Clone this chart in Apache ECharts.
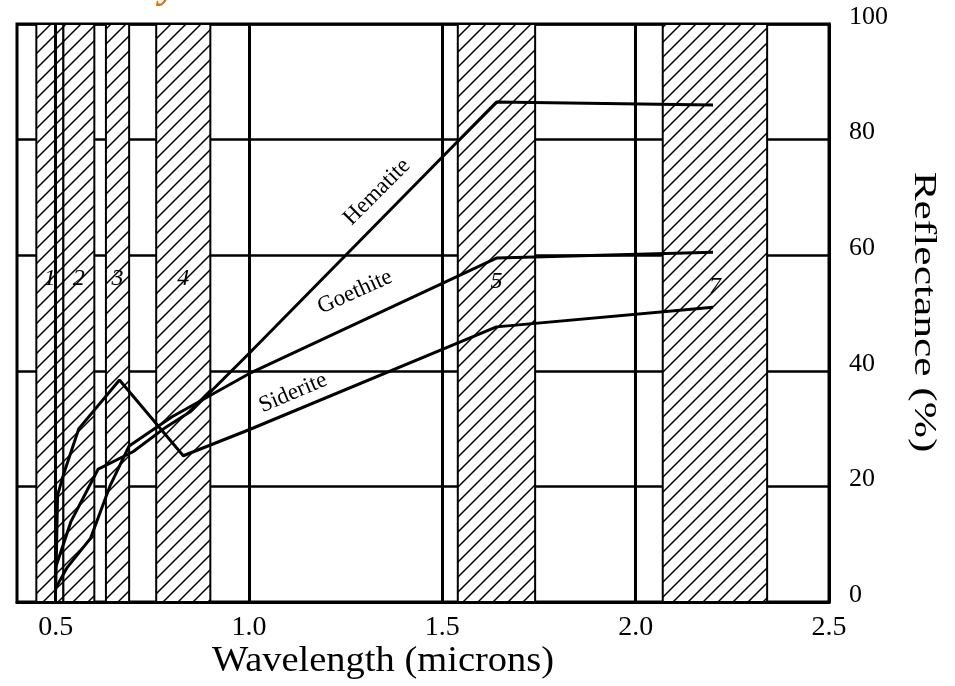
<!DOCTYPE html>
<html>
<head>
<meta charset="utf-8">
<script src="https://cdn.jsdelivr.net/npm/echarts@6/dist/echarts.min.js"></script>
<style>
html,body{margin:0;padding:0;background:#fff;}
#c{width:955px;height:686px;}
</style>
</head>
<body>
<div id="c"></div>
<script>
// ---- data ----
var bandNames = ['1', '2', '3', '4', '5', '7'];
var bandStart = [0.45, 0.52, 0.63, 0.76, 1.54, 2.07];
var bandEnd   = [0.52, 0.60, 0.69, 0.90, 1.74, 2.34];
var bandLabelY = [56, 56, 56, 56, 55.5, 54.5];

var gridX = [0.5, 1.0, 1.5, 2.0];
var xTicks = [0.5, 1.0, 1.5, 2.0, 2.5];

var hematiteX = [0.50, 0.52, 0.54, 0.61, 0.70, 0.78, 0.85, 1.00, 1.64, 2.20];
var hematiteY = [6, 10, 14, 23, 26, 30, 33, 43, 86.5, 86];
var goethiteX = [0.50, 0.53, 0.59, 0.64, 0.69, 0.80, 1.00, 1.64, 2.20];
var goethiteY = [2.4, 6, 11, 20, 27, 32, 39.5, 59.5, 60.5];
var sideriteX = [0.50, 0.505, 0.52, 0.56, 0.665, 0.83, 1.00, 1.64, 2.20];
var sideriteY = [2, 18.5, 22, 30, 38.4, 25.3, 29.8, 47.6, 51];

function pairs(xs, ys){ return xs.map(function(x,i){ return [x, ys[i]]; }); }

// hatch pattern
var pat = document.createElement('canvas');
pat.width = 15; pat.height = 15;
var g = pat.getContext('2d');
g.fillStyle = '#fff'; g.fillRect(0,0,15,15);
g.strokeStyle = '#000'; g.lineWidth = 1.5;
g.beginPath();
g.moveTo(-2, 17); g.lineTo(17, -2);
g.moveTo(-2, 2); g.lineTo(2, -2);
g.moveTo(13, 17); g.lineTo(17, 13);
g.stroke();

var chart = echarts.init(document.getElementById('c'), null, {renderer:'canvas'});
var serif = '"Liberation Serif", "DejaVu Serif", serif';
var lineStyle = {color:'#000', width:3};

var bandData = bandStart.map(function(s,i){ return [s, bandEnd[i], bandLabelY[i]]; });

var option = {
  animation: false,
  backgroundColor: '#fff',
  grid: {left: 17, right: 126, top: 24, bottom: 84, show: true, borderColor: '#000', borderWidth: 3, backgroundColor: 'transparent'},
  xAxis: {
    type: 'value', min: 0.4, max: 2.5,
    axisLine: {show: true, lineStyle: {color:'#000', width: 3}},
    axisTick: {show: false, customValues: xTicks},
    splitLine: {show: false},
    axisLabel: {customValues: xTicks, color:'#000', fontFamily: serif, fontSize: 28, margin: 12,
      formatter: function(v){ return v.toFixed(1); }}
  },
  yAxis: {
    type: 'value', position: 'right', min: 0, max: 100, interval: 20,
    axisLine: {show: true, lineStyle: {color:'#000', width: 3}},
    axisTick: {show: false},
    splitLine: {show: true, lineStyle: {color:'#000', width: 2.5}},
    axisLabel: {color:'#000', fontFamily: serif, fontSize: 26, margin: 20, verticalAlign: 'bottom', lineHeight: 14}
  },
  series: [
    {
      type: 'custom', z: 1,
      data: bandData,
      renderItem: function(params, api){
        var p0 = api.coord([api.value(0), 100]);
        var p1 = api.coord([api.value(1), 0]);
        var lp = api.coord([(api.value(0)+api.value(1))/2, api.value(2)]);
        return {type:'group', children:[
          {type:'rect', shape:{x:p0[0], y:p0[1], width:p1[0]-p0[0], height:p1[1]-p0[1]},
           style:{fill:{image: pat, repeat:'repeat'}, stroke:'#000', lineWidth:2}},
          {type:'text', x: lp[0], y: lp[1], style:{text: bandNames[params.dataIndex], font: 'italic 24px ' + serif, fill:'#000', align:'center', verticalAlign:'middle'}}
        ]};
      },
      markLine: {
        silent: true, symbol: 'none', label: {show: false},
        lineStyle: {color:'#000', width: 3, type:'solid'},
        data: gridX.map(function(x){ return {xAxis: x}; })
      }
    },
    {type:'line', name:'Hematite', data: pairs(hematiteX, hematiteY), showSymbol:false, lineStyle: lineStyle, z: 5, color:'#000'},
    {type:'line', name:'Goethite', data: pairs(goethiteX, goethiteY), showSymbol:false, lineStyle: lineStyle, z: 5, color:'#000'},
    {type:'line', name:'Siderite', data: pairs(sideriteX, sideriteY), showSymbol:false, lineStyle: lineStyle, z: 5, color:'#000'}
  ],
  graphic: [
    {type:'text', x: 383, y: 662, scaleX: 1.1, style:{text:'Wavelength (microns)', font: '35px ' + serif, fill:'#000', align:'center', verticalAlign:'middle'}},
    {type:'text', x: 923, y: 312, rotation: -Math.PI/2, scaleX: 1.4, style:{text:'Reflectance (%)', font: '31px ' + serif, fill:'#000', align:'center', verticalAlign:'middle'}},
    {type:'text', x: 377, y: 192, rotation: Math.PI/4, style:{text:'Hematite', font: '23px ' + serif, fill:'#000', align:'center', verticalAlign:'middle'}},
    {type:'text', x: 355, y: 292, rotation: 0.42, style:{text:'Goethite', font: '23px ' + serif, fill:'#000', align:'center', verticalAlign:'middle'}},
    {type:'text', x: 293, y: 393, rotation: 0.40, style:{text:'Siderite', font: '23px ' + serif, fill:'#000', align:'center', verticalAlign:'middle'}},
    {type:'text', x: 160, y: -33, style:{text:'y', font: 'italic bold 40px ' + serif, fill:'#d9700f'}}
  ]
};
chart.setOption(option);
</script>
</body>
</html>
